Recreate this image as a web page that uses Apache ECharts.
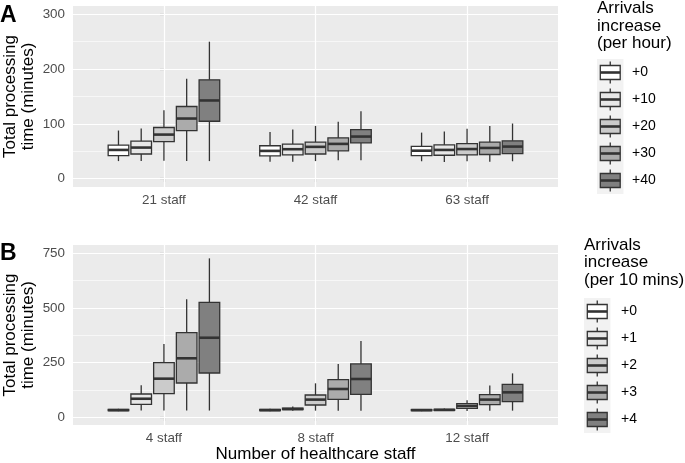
<!DOCTYPE html>
<html><head><meta charset="utf-8">
<script src="https://cdn.jsdelivr.net/npm/echarts@6/dist/echarts.min.js"></script>
<style>html,body{margin:0;padding:0;background:#fff}#c{width:685px;height:463px}</style>
</head><body><div id="c"></div>
<script>
// ---- data ----
const categoriesA = ['21 staff', '42 staff', '63 staff'];
const categoriesB = ['4 staff', '8 staff', '12 staff'];
const groupsA = ['+0', '+10', '+20', '+30', '+40'];
const groupsB = ['+0', '+1', '+2', '+3', '+4'];
const legendTitleA = 'Arrivals\nincrease\n(per hour)';
const legendTitleB = 'Arrivals\nincrease\n(per 10 mins)';
const yTitle = 'Total processing\ntime (minutes)';
const xTitle = 'Number of healthcare staff';
// each row: [lower whisker, Q1, median, Q3, upper whisker], one row per staff category
const boxA0 = [[32, 42, 52.4, 61, 87.8], [31, 41.5, 50.6, 60, 85], [31.7, 42, 51, 59, 84]];
const boxA1 = [[32, 45, 56.7, 68.3, 91.4], [31, 43.3, 53.7, 63, 89.6], [30.5, 42.7, 52.4, 61.6, 86]];
const boxA2 = [[32.5, 67.7, 80.4, 93.3, 125], [32, 45, 58, 66.5, 96.3], [31.7, 43.3, 54, 64, 91]];
const boxA3 = [[32, 87.8, 109.7, 131.7, 182.3], [33.5, 50.6, 63.4, 74.4, 103.7], [31, 44, 56, 66.5, 96.3]];
const boxA4 = [[32, 104.8, 142.7, 180.4, 250], [33.5, 65.2, 76.8, 89.6, 123], [31.7, 45.7, 58.5, 69, 100.6]];
const boxB0 = [[28, 30.5, 33, 36, 39], [28, 30.5, 33, 36, 39], [28, 30.5, 33, 35.5, 38]];
const boxB1 = [[31, 59.6, 85, 106.7, 146.4], [30, 35, 38, 42, 49], [29, 31.5, 34, 36.5, 40]];
const boxB2 = [[31, 108, 176.8, 249.9, 335], [30.5, 56.4, 81, 102, 155.5], [29, 41, 52, 62.5, 78]];
const boxB3 = [[31, 157, 270, 387, 539.6], [30.5, 82.3, 129.6, 172, 244], [30.5, 58, 81, 103.7, 145]];
const boxB4 = [[31, 202.7, 364, 526, 727], [30.5, 105, 175.3, 244, 349], [30.5, 71.6, 114.3, 151, 201]];
const ticksA = [0, 100, 200, 300];
const minorA = [50, 150, 250];
const ticksB = [0, 250, 500, 750];
const minorB = [125, 375, 625];

// ---- styles ----
const fills = ['#FFFFFF', '#E7E7E7', '#CBCBCB', '#ABABAB', '#808080'];
const EDGE = '#333333';
const LW = 1.3, MLW = 2.6;
const HALF = 0.068, DODGE = 0.15;
const FONT = 'Liberation Sans, Arial, Helvetica, sans-serif';

function renderer(fill) {
  return function (params, api) {
    const x = api.value(0);
    const lo = api.coord([x, api.value(1)]);
    const q1 = api.coord([x, api.value(2)]);
    const md = api.coord([x, api.value(3)]);
    const q3 = api.coord([x, api.value(4)]);
    const hi = api.coord([x, api.value(5)]);
    const l = api.coord([x - HALF, api.value(3)])[0];
    const r = api.coord([x + HALF, api.value(3)])[0];
    const ls = { stroke: EDGE, lineWidth: LW };
    return { type: 'group', children: [
      { type: 'line', shape: { x1: lo[0], y1: lo[1], x2: q1[0], y2: q1[1] }, style: ls },
      { type: 'line', shape: { x1: q3[0], y1: q3[1], x2: hi[0], y2: hi[1] }, style: ls },
      { type: 'rect', shape: { x: l, y: q3[1], width: r - l, height: Math.max(q1[1] - q3[1], 0.5) },
        style: { fill: fill, stroke: EDGE, lineWidth: LW } },
      { type: 'line', shape: { x1: l, y1: md[1], x2: r, y2: md[1] }, style: { stroke: EDGE, lineWidth: MLW } }
    ]};
  };
}

function boxSeries(name, rows, gi, gridIdx) {
  return {
    type: 'custom', name: name, xAxisIndex: gridIdx, yAxisIndex: gridIdx, z: 5,
    renderItem: renderer(fills[gi]),
    encode: { x: 0, y: [1, 2, 3, 4, 5] },
    data: rows.map((r, c) => [c + (gi - 2) * DODGE].concat(r)),
    silent: true
  };
}

function gridSeries(gridIdx, majors, minors) {
  const d = [];
  minors.forEach(v => d.push({ yAxis: v, lineStyle: { color: '#fff', width: 0.6, type: 'solid' } }));
  majors.forEach(v => d.push({ yAxis: v, lineStyle: { color: '#fff', width: 1.2, type: 'solid' } }));
  [0, 1, 2].forEach(v => d.push({ xAxis: v, lineStyle: { color: '#fff', width: 1.2, type: 'solid' } }));
  return {
    type: 'line', xAxisIndex: gridIdx, yAxisIndex: gridIdx, data: [], z: 1, silent: true,
    markLine: { silent: true, symbol: 'none', label: { show: false }, animation: false, data: d }
  };
}

function xAxisDef(gridIdx, cats) {
  return {
    type: 'value', gridIndex: gridIdx, min: -0.6, max: 2.6,
    axisLine: { show: false }, splitLine: { show: false },
    axisTick: { show: true, customValues: [0, 1, 2], length: 4, lineStyle: { color: EDGE, width: 1.1 } },
    axisLabel: { customValues: [0, 1, 2], formatter: v => cats[Math.round(v)], margin: 7,
      color: '#4D4D4D', fontSize: 13.4, fontFamily: FONT }
  };
}
function yAxisDef(gridIdx, min, max, ticks) {
  return {
    type: 'value', gridIndex: gridIdx, min: min, max: max,
    axisLine: { show: false }, splitLine: { show: false },
    axisTick: { show: true, customValues: ticks, length: 4, lineStyle: { color: EDGE, width: 1.1 } },
    axisLabel: { customValues: ticks, margin: 8, color: '#4D4D4D', fontSize: 13.4, fontFamily: FONT }
  };
}

function legendGraphics(groups, title, left, titleTop, keyTop, labelX) {
  const els = [];
  els.push({ type: 'text', left: left, top: titleTop, style: { text: title, font: '17px ' + FONT, fill: '#000', lineHeight: 17.4 } });
  const kw = 26.5, kh = 27;
  groups.forEach((g, i) => {
    const y0 = keyTop + i * kh, cx = left + kw / 2, cy = y0 + kh / 2;
    els.push({ type: 'rect', shape: { x: left, y: y0, width: kw, height: kh }, style: { fill: '#F2F2F2' }, z: 1 });
    els.push({ type: 'line', shape: { x1: cx, y1: y0 + 2.5, x2: cx, y2: y0 + kh - 2.5 }, style: { stroke: EDGE, lineWidth: LW }, z: 2 });
    els.push({ type: 'rect', shape: { x: left + 3.3, y: cy - 7, width: kw - 6.6, height: 14 }, style: { fill: fills[i], stroke: EDGE, lineWidth: LW }, z: 3 });
    els.push({ type: 'line', shape: { x1: left + 3.3, y1: cy, x2: left + kw - 3.3, y2: cy }, style: { stroke: EDGE, lineWidth: MLW }, z: 4 });
    els.push({ type: 'text', x: labelX, y: cy, style: { text: g, font: '14px ' + FONT, fill: '#000', verticalAlign: 'middle', align: 'left' }, z: 4 });
  });
  return els;
}

const chart = echarts.init(document.getElementById('c'), null, { renderer: 'canvas' });
const series = [gridSeries(0, ticksA, minorA), gridSeries(1, ticksB, minorB)];
[boxA0, boxA1, boxA2, boxA3, boxA4].forEach((rows, i) => series.push(boxSeries(groupsA[i], rows, i, 0)));
[boxB0, boxB1, boxB2, boxB3, boxB4].forEach((rows, i) => series.push(boxSeries(groupsB[i], rows, i, 1)));

const graphics = []
  .concat(legendGraphics(groupsA, legendTitleA, 597, 0, 59, 632))
  .concat(legendGraphics(groupsB, legendTitleB, 584, 236.5, 298, 621))
  .concat([
    { type: 'text', x: 0, y: 16, style: { text: 'A', font: 'bold 23px ' + FONT, fill: '#000', verticalAlign: 'middle' } },
    { type: 'text', x: 0, y: 253.5, style: { text: 'B', font: 'bold 23px ' + FONT, fill: '#000', verticalAlign: 'middle' } },
    { type: 'text', x: 19.5, y: 96.5, rotation: Math.PI / 2, style: { text: yTitle, font: '17px ' + FONT, fill: '#000', align: 'center', verticalAlign: 'middle', lineHeight: 17.4 } },
    { type: 'text', x: 19.5, y: 335, rotation: Math.PI / 2, style: { text: yTitle, font: '17px ' + FONT, fill: '#000', align: 'center', verticalAlign: 'middle', lineHeight: 17.4 } },
    { type: 'text', x: 315.5, y: 454.5, style: { text: xTitle, font: '17px ' + FONT, fill: '#000', align: 'center', verticalAlign: 'middle' } }
  ]);

chart.setOption({
  animation: false,
  backgroundColor: '#FFFFFF',
  grid: [
    { left: 73, width: 485, top: 6, height: 181, show: true, backgroundColor: '#EBEBEB', borderWidth: 0 },
    { left: 73, width: 485, top: 245, height: 180, show: true, backgroundColor: '#EBEBEB', borderWidth: 0 }
  ],
  xAxis: [xAxisDef(0, categoriesA), xAxisDef(1, categoriesB)],
  yAxis: [yAxisDef(0, -15.3, 315.2, ticksA), yAxisDef(1, -35.1, 788.1, ticksB)],
  series: series,
  graphic: graphics
});
</script>
</body></html>
